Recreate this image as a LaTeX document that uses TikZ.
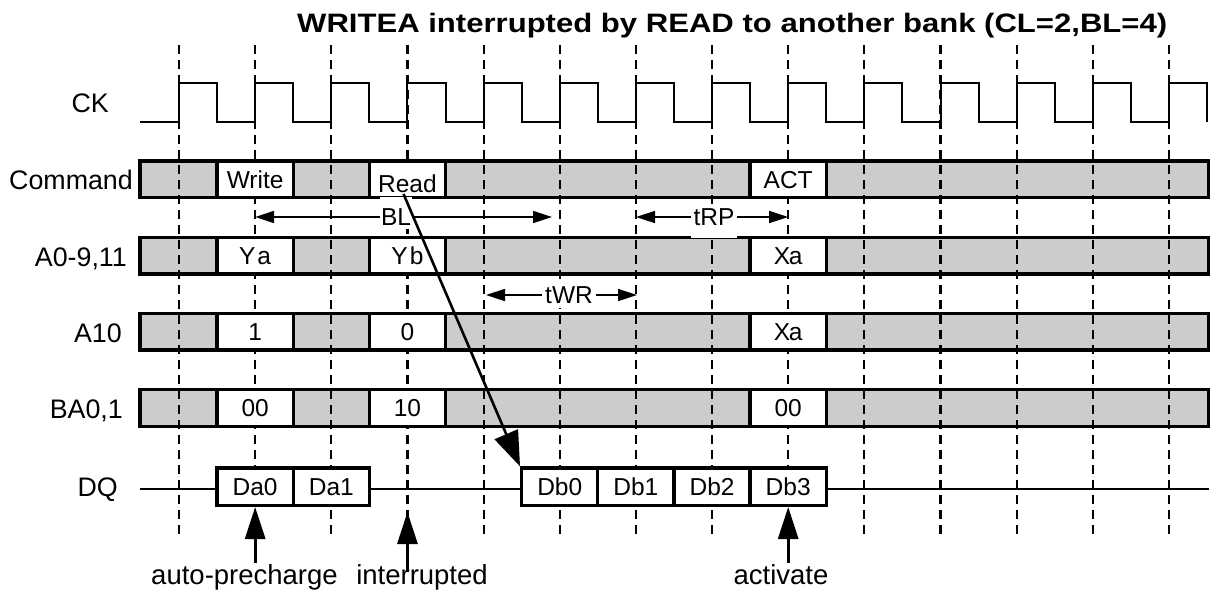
\documentclass[tikz,border=0pt]{standalone}
\usepackage{fontspec}
\usepackage{graphicx}
\setmainfont{Liberation Sans}
\usetikzlibrary{arrows.meta}
\definecolor{busgray}{HTML}{CCCCCC}
\newcommand\cellfont{\fontsize{24.5}{29}\selectfont}
\newcommand\rowfont{\fontsize{26.8}{31}\selectfont}
\newcommand\notefont{\fontsize{27.5}{32}\selectfont}
\begin{document}
\begin{tikzpicture}[x=1pt,y=-1pt,
  bus/.style={draw=black, line width=3.3pt, fill=busgray},
  wcell/.style={draw=black, line width=3.3pt, fill=white, minimum width=76.15pt, minimum height=36.8pt, inner sep=0pt, text height=17.5pt, text depth=0pt, font=\cellfont},
  gridline/.style={line width=2.2pt, dash pattern=on 9pt off 6pt},
  clk/.style={line width=2pt, line join=miter},
  lbl/.style={font=\rowfont, anchor=base east, inner sep=0pt},
  dim/.style={line width=1.6pt, {Triangle[length=19pt,width=12pt]}-{Triangle[length=19pt,width=12pt]}},
  dimlbl/.style={font=\cellfont, anchor=base, fill=white, inner ysep=0pt},
  uparrow/.style={line width=3pt, -{Triangle[length=32pt,width=20pt]}},
  diag/.style={line width=2.6pt, -{Triangle[length=35pt,width=25pt]}},
  note/.style={font=\notefont, anchor=base, inner sep=0pt},
  dqline/.style={line width=2pt}
]
\useasboundingbox (0,0) rectangle (1210,590);

% title
\node[anchor=base west, inner sep=0pt] (title) at (297,32)
  {\resizebox{870pt}{19.3pt}{\fontsize{26.5}{30}\selectfont\bfseries WRITEA interrupted by READ to another bank (CL=2,BL=4)}};

% clock
\draw[clk] (140,121.7) foreach \k in {0,...,13} {
  -- ({179+76.15*\k},121.7) -- ({179+76.15*\k},83.3)
  -- ({217.08+76.15*\k},83.3) -- ({217.08+76.15*\k},121.7) };

% bus rows (gray)
\foreach \r in {0,1,2,3} {
  \draw[bus] (140,{161+76.15*\r}) rectangle (1209,{197.8+76.15*\r});
}

% dashed clock grid
\foreach \k in {0,...,13} {
  \draw[gridline] ({179+76.15*\k},45) -- ({179+76.15*\k},535);
}

% white cells: Command
\node[wcell] (cmdW) at (255.15,179.4) {Write};
\node[wcell] (cmdR) at (407.45,179.4) {\raisebox{-4pt}{Read}};
\node[wcell] (cmdA) at (788.2,179.4) {ACT};
% A0-9,11
\node[wcell] (adrYa) at (255.15,255.55) {Y\kern2pt a};
\node[wcell] (adrYb) at (407.45,255.55) {Y\kern2pt b};
\node[wcell] (adrXa) at (788.2,255.55) {X\kern-1.5pt a};
% A10
\node[wcell] (apOne) at (255.15,331.7) {1};
\node[wcell] (apZero) at (407.45,331.7) {0};
\node[wcell] (apXa) at (788.2,331.7) {X\kern-1.5pt a};
% BA0,1
\node[wcell] (baA) at (255.15,407.85) {00};
\node[wcell] (baB) at (407.45,407.85) {10};
\node[wcell] (baC) at (788.2,407.85) {00};

% DQ
\node[wcell, minimum height=37.3pt] (da0) at (255.15,486.7) {Da0};
\node[wcell, minimum height=37.3pt] (da1) at (331.3,486.7) {Da1};
\node[wcell, minimum height=37.3pt] (db0) at (559.75,486.7) {Db0};
\node[wcell, minimum height=37.3pt] (db1) at (635.9,486.7) {Db1};
\node[wcell, minimum height=37.3pt] (db2) at (712.05,486.7) {Db2};
\node[wcell, minimum height=37.3pt] (db3) at (788.2,486.7) {Db3};
\coordinate (dqL) at (140,489.3);
\coordinate (dqR) at (1209,489.3);
\draw[dqline] (dqL) -- (da0.west |- dqL);
\draw[dqline] (da1.east |- dqL) -- (db0.west |- dqL);
\draw[dqline] (db3.east |- dqL) -- (dqR);

% row labels
\node[lbl] (lCK) at (109,112) {CK};
\node[lbl] (lCmd) at (133,189.5) {Command};
\node[lbl] (lAdr) at (127,266.5) {A0-9,11};
\node[lbl] (lA10) at (122,342.5) {A10};
\node[lbl] (lBA) at (123,418) {BA0,1};
\node[lbl] (lDQ) at (118,496.5) {DQ};

% BL
\coordinate (blL) at (255.15,217);
\coordinate (blR) at (552,217);
\draw[dim] (blL) -- (blR);
\node[dimlbl, inner xsep=1.5pt, text height=28.8pt, text depth=3pt] (bl) at (396,225.8) {BL};
% tRP
\coordinate (rpL) at (636,217);
\coordinate (rpR) at (788.2,217);
\draw[dim] (rpL) -- (rpR);
\node[dimlbl, inner xsep=2.5pt, text height=20.8pt, text depth=11.7pt] (trp) at (714,225.8) {tRP};
% tWR
\coordinate (wrL) at (486,295);
\coordinate (wrR) at (637,295);
\draw[dim] (wrL) -- (wrR);
\node[dimlbl, inner xsep=3pt, text height=19pt, text depth=4pt] (twr) at (569,303.8) {tWR};

% read to data arrow
\coordinate (rdstart) at (403.5,194);
\draw[diag] (rdstart) -- (db0.north west);

% bottom notes
\node[note] (nAP) at (244.5,584) {auto-precharge};
\node[note] (nInt) at (422,584) {interrupted};
\node[note] (nAct) at (781,584) {activate};
\coordinate (apS) at (255.15,563);
\coordinate (intS) at (407.45,572);
\coordinate (intT) at (407.45,512);
\coordinate (actS) at (788.2,563);
\draw[uparrow] (apS) -- (da0.south);
\draw[uparrow] (intS) -- (intT);
\draw[uparrow] (actS) -- (db3.south);
\end{tikzpicture}
\end{document}
